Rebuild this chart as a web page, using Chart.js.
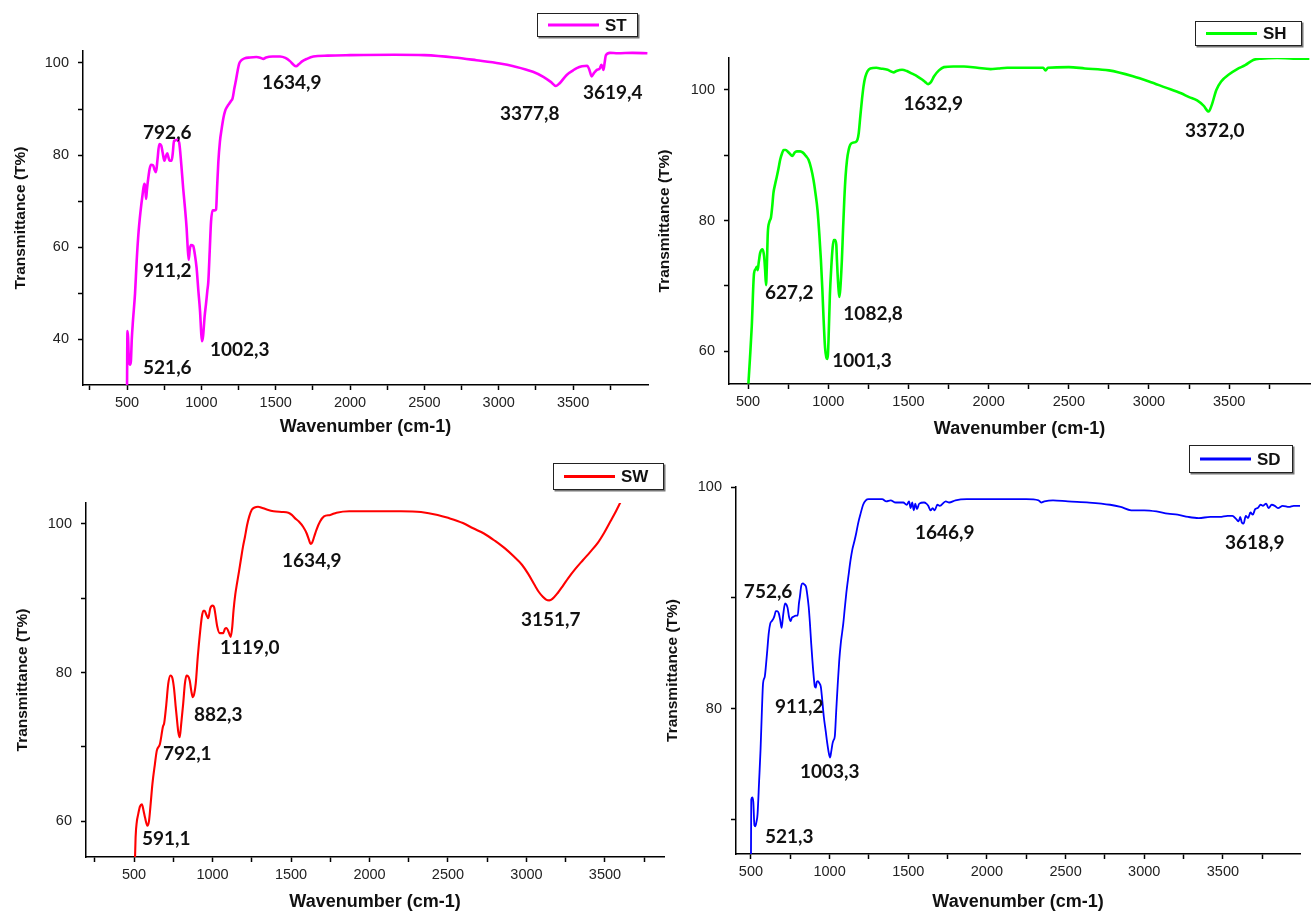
<!DOCTYPE html>
<html>
<head>
<meta charset="utf-8">
<style>
html, body { margin: 0; padding: 0; background: #fff; }
#wrap { position: relative; width: 1312px; height: 913px; overflow: hidden; }
#wrap canvas { position: absolute; left: 0; top: 0; }
</style>
<script src="https://cdn.jsdelivr.net/npm/chart.js@4.4.1/dist/chart.umd.min.js"></script>
</head>
<body>
<div id="wrap">
  <canvas id="st" width="1312" height="913"></canvas>
  <canvas id="sh" width="1312" height="913"></canvas>
  <canvas id="sw" width="1312" height="913"></canvas>
  <canvas id="sd" width="1312" height="913"></canvas>
</div>
<script>
// ---- tick values ----
const xTicks250 = [250, 500, 750, 1000, 1250, 1500, 1750, 2000, 2250, 2500, 2750, 3000, 3250, 3500, 3750];
const xTicks500 = [500, 750, 1000, 1250, 1500, 1750, 2000, 2250, 2500, 2750, 3000, 3250, 3500, 3750];
const xTickLabels = [500, 1000, 1500, 2000, 2500, 3000, 3500];
const stTicksY = [40, 50, 60, 70, 80, 90, 100];
const stLabelsY = [40, 60, 80, 100];
const shTicksY = [60, 70, 80, 90, 100];
const shLabelsY = [60, 80, 100];
const swTicksY = [60, 70, 80, 90, 100];
const swLabelsY = [60, 80, 100];
const sdTicksY = [70, 80, 90, 100];
const sdLabelsY = [80, 100];

// ---- ST ----
const stWave = [500, 503, 507, 512, 520, 526, 532, 540, 554, 565, 576, 590, 605, 616, 622, 628, 634, 641, 652, 662,
  675, 686, 695, 705, 717, 730, 740, 751, 762, 771, 778, 786, 800, 808, 816, 828, 838, 851, 865, 878,
  890, 901, 908, 915, 922, 930, 945, 956, 968, 980, 991, 1000, 1005, 1012, 1022, 1031, 1040, 1047, 1056, 1065,
  1076, 1090, 1099, 1106, 1114, 1125, 1136, 1148, 1159, 1175, 1188, 1200, 1210, 1222, 1233, 1245, 1255, 1270, 1290, 1327,
  1370, 1400, 1417, 1435, 1480, 1529, 1565, 1596, 1620, 1637, 1655, 1675, 1710, 1753, 1850, 2000, 2300, 2500, 2700, 2850,
  3008, 3100, 3230, 3300, 3350, 3385, 3410, 3457, 3500, 3525, 3560, 3596, 3610, 3625, 3640, 3660, 3680, 3690, 3697, 3705,
  3712, 3721, 3748, 3800, 3900, 4000];
const stTrans = [29, 41.8, 40.5, 36, 34.5, 35.2, 40, 44, 50, 57, 62.6, 67.5, 71.5, 73.8, 73.2, 70.5, 72.5, 74.5, 77, 77.9,
  77.8, 76.8, 76.3, 79, 82.4, 82.1, 80.5, 78.8, 79.8, 80.4, 79.6, 78.8, 78.8, 80.5, 83.1, 83.2, 83.4, 82.7, 78, 72.7,
  68.5, 64.1, 60, 57.3, 59.5, 60.5, 60.3, 58.5, 55.5, 50.5, 46.2, 41, 39.6, 40.8, 45, 47.6, 50.5, 52.6, 59, 65.5,
  68, 68, 68.2, 73, 78.4, 83, 85.6, 88, 89.5, 90.6, 91.2, 91.8, 92.3, 94.5, 96.3, 98.5, 99.9, 100.6, 101.0, 101.2,
  101.3, 101.1, 100.9, 101.2, 101.4, 101.4, 101.1, 100.4, 99.6, 99.3, 99.7, 100.3, 100.9, 101.4, 101.6, 101.7, 101.8, 101.7, 101.2, 100.6,
  99.9, 99.3, 98.1, 97.0, 95.9, 95.0, 95.6, 97.4, 98.4, 98.9, 99.3, 99.4, 98.5, 97.1, 97.8, 98.5, 98.8, 99.6, 99.2, 98.5,
  100, 101.7, 102.2, 102.1, 102.2, 102.1];
const stPeaks = [[1408, 95.7, '1634,9'], [608, 84.9, '792,6'], [608, 54.8, '911,2'], [1058, 37.8, '1002,3'],
  [608, 33.8, '521,6'], [3008, 89.0, '3377,8'], [3567, 93.5, '3619,4']];

// ---- SH ----
const shWave = [502, 512, 523, 537, 548, 554, 560, 566, 575, 590, 600, 606, 612, 617, 623, 633, 643, 650, 658, 668,
  679, 690, 700, 712, 721, 735, 750, 765, 777, 790, 804, 825, 842, 860, 877, 893, 908, 920, 933, 944,
  954, 963, 971, 980, 988, 993, 998, 1002, 1010, 1019, 1027, 1034, 1042, 1050, 1054, 1058, 1064, 1069, 1075, 1085,
  1092, 1100, 1108, 1117, 1127, 1137, 1150, 1169, 1182, 1190, 1200, 1210, 1220, 1231, 1245, 1262, 1300, 1325, 1370, 1395,
  1408, 1425, 1460, 1490, 1523, 1555, 1585, 1605, 1623, 1640, 1660, 1690, 1721, 1780, 1846, 1930, 2012, 2060, 2116, 2250,
  2340, 2355, 2370, 2500, 2600, 2750, 2900, 3000, 3100, 3200, 3250, 3300, 3340, 3372, 3390, 3420, 3450, 3500, 3550, 3600,
  3650, 3700, 3800, 3900, 4000];
const shTrans = [55, 59, 63.8, 71.9, 72.6, 72.9, 72.4, 73.5, 75, 75.6, 74.5, 72.5, 70.1, 73, 78.1, 79.8, 80.5, 82, 84.2, 85.5,
  86.7, 88, 89.3, 90.3, 90.8, 90.8, 90.5, 90.1, 89.9, 90.4, 90.6, 90.6, 90.4, 89.9, 89.3, 88, 86.2, 84.2, 81.6, 78,
  74, 69.5, 64.8, 60.5, 59, 58.8, 59.5, 62, 68.5, 72.9, 75.8, 77, 77, 76.3, 74, 71.9, 69.5, 68.3, 69.5, 74,
  78.5, 83.2, 86.8, 89.3, 90.8, 91.6, 91.9, 92, 92.4, 93.4, 96, 98.5, 100.6, 102, 102.9, 103.3, 103.4, 103.3, 103.1, 102.8,
  102.7, 102.9, 103.1, 102.9, 102.5, 102.1, 101.6, 101.2, 100.9, 101.2, 102.1, 103, 103.5, 103.6, 103.6, 103.4, 103.2, 103.3, 103.4, 103.4,
  103.4, 103.0, 103.4, 103.5, 103.3, 103, 102.1, 101.3, 100.4, 99.5, 98.9, 98.4, 97.6, 96.7, 97.6, 100, 101.3, 102.4, 103.2, 103.8,
  104.6, 104.8, 104.9, 104.8, 104.8];
const shPeaks = [[1469, 97.9, '1632,9'], [3225, 93.7, '3372,0'], [606, 68.9, '627,2'], [1094, 65.7, '1082,8'],
  [1025, 58.5, '1001,3']];

// ---- SW ----
const swWave = [505, 510, 518, 525, 538, 550, 560, 570, 585, 595, 604, 617, 633, 645, 665, 684, 692, 705, 718, 732,
  745, 755, 765, 772, 782, 791, 800, 813, 824, 834, 845, 855, 865, 874, 883, 893, 906, 922, 932, 941,
  950, 960, 973, 985, 1000, 1010, 1017, 1030, 1046, 1057, 1067, 1080, 1089, 1100, 1116, 1125, 1134, 1145, 1156, 1168,
  1180, 1193, 1207, 1220, 1234, 1250, 1268, 1290, 1309, 1350, 1389, 1440, 1483, 1505, 1523, 1550, 1577, 1600, 1615, 1625,
  1635, 1648, 1662, 1685, 1710, 1750, 1790, 1871, 2000, 2200, 2328, 2434, 2500, 2595, 2660, 2729, 2800, 2863, 2920, 2971,
  3010, 3051, 3080, 3104, 3125, 3145, 3165, 3199, 3230, 3266, 3310, 3359, 3405, 3453, 3495, 3534, 3570, 3601, 3640];
const swTrans = [54, 57.9, 60, 60.8, 62, 62.3, 61.5, 60.5, 59.4, 60, 61.9, 65, 67.7, 69.5, 70.4, 72.7, 73.2, 75.6, 78.5, 79.6,
  79.2, 77.8, 75.5, 74, 72, 71.3, 73, 75.8, 78.5, 79.6, 79.5, 78.9, 77.5, 76.7, 77.1, 78.5, 82.1, 85.7, 87.5, 88.3,
  88.3, 87.8, 87.3, 88.6, 89, 88.8, 88, 86.2, 85.3, 85.3, 85.3, 85.9, 86, 85.6, 84.8, 86, 88.4, 90.5, 92, 93.5,
  95.1, 96.8, 98.3, 99.8, 101, 101.9, 102.2, 102.3, 102.2, 101.9, 101.7, 101.6, 101.5, 101.2, 100.8, 100.3, 99.6, 98.7, 97.8, 97.3,
  97.5, 98.3, 99.2, 100.3, 101, 101.2, 101.5, 101.7, 101.7, 101.7, 101.6, 101.2, 100.8, 100.1, 99.4, 98.7, 97.7, 96.7, 95.6, 94.5,
  93.3, 91.8, 90.8, 90.2, 89.8, 89.7, 89.9, 90.7, 91.6, 92.7, 93.9, 95.1, 96.2, 97.4, 98.8, 100.3, 101.7, 103, 104.6];
const swPeaks = [[1443, 95.0, '1634,9'], [2965, 87.1, '3151,7'], [1048, 83.3, '1119,0'], [882, 74.3, '882,3'],
  [685, 69.1, '792,1'], [551, 57.7, '591,1']];

// ---- SD ----
const sdWave = [500, 502, 508, 515, 522, 528, 535, 542, 552, 561, 570, 577, 588, 596, 604, 613, 623, 632, 642, 650,
  658, 667, 677, 686, 695, 705, 717, 725, 733, 742, 752, 760, 771, 785, 797, 805, 811, 820, 829, 840,
  850, 858, 867, 875, 883, 891, 899, 906, 912, 918, 925, 935, 944, 953, 963, 975, 985, 995, 1003, 1011,
  1019, 1026, 1033, 1042, 1052, 1061, 1071, 1080, 1087, 1096, 1106, 1120, 1133, 1145, 1159, 1170, 1181, 1197, 1213, 1230,
  1248, 1290, 1334, 1360, 1388, 1420, 1468, 1490, 1505, 1515, 1525, 1535, 1545, 1555, 1570, 1600, 1615, 1627, 1642, 1655,
  1668, 1685, 1700, 1738, 1760, 1800, 1872, 2000, 2140, 2250, 2328, 2345, 2365, 2420, 2515, 2650, 2783, 2850, 2917, 3000,
  3078, 3150, 3212, 3280, 3346, 3420, 3480, 3530, 3560, 3585, 3600, 3610, 3620, 3632, 3645, 3660, 3675, 3690, 3705, 3721,
  3740, 3755, 3775, 3790, 3810, 3830, 3850, 3880, 3920, 3950, 3990];
const sdTrans = [66, 71.8, 72, 71.6, 69.5, 69.4, 69.8, 70.5, 73.5, 76.3, 80, 82.3, 82.9, 84, 85.3, 86.8, 87.7, 87.9, 88.1, 88.4,
  88.8, 88.8, 88.6, 88, 87.3, 88.5, 89.5, 89.4, 89.1, 88.3, 87.9, 88.2, 88.3, 88.4, 88.4, 89.5, 90.1, 91.1, 91.3, 91.2,
  91, 90.3, 89.2, 87.7, 85.9, 84.3, 82.9, 82.0, 81.9, 82.4, 82.5, 82.3, 82.0, 80.8, 79.3, 78, 76.9, 76, 75.6, 76.2,
  76.9, 77.2, 77.5, 79.8, 82.3, 84.3, 85.9, 86.9, 87.7, 89, 90.4, 92, 93.4, 94.4, 95.2, 95.9, 96.7, 97.6, 98.4, 98.8,
  98.9, 98.9, 98.9, 98.7, 98.8, 98.6, 98.6, 98.4, 98.7, 98.1, 98.6, 97.9, 98.5, 98.0, 98.5, 98.6, 98.5, 98.3, 97.9, 98.1,
  97.9, 98.4, 98.3, 98.7, 98.6, 98.8, 98.9, 98.9, 98.9, 98.9, 98.8, 98.6, 98.7, 98.8, 98.7, 98.6, 98.4, 98.2, 97.9, 97.9,
  97.8, 97.6, 97.5, 97.3, 97.2, 97.3, 97.3, 97.4, 97.4, 97.1, 96.9, 97.3, 96.8, 96.7, 97.4, 97.2, 97.7, 97.5, 98.0, 98.1,
  98.4, 98.3, 98.5, 98.1, 98.4, 98.3, 98.1, 98.3, 98.2, 98.3, 98.3];
const sdPeaks = [[1543, 95.9, '1646,9'], [3513, 95.0, '3618,9'], [455, 90.5, '752,6'], [653, 80.2, '911,2'],
  [812, 74.3, '1003,3'], [589, 68.4, '521,3']];

// peak labels drawn at data positions
const peakLabels = {
  id: 'peakLabels',
  afterDatasetsDraw(chart, args, opts) {
    const ctx = chart.ctx, xs = chart.scales.x, ys = chart.scales.y;
    ctx.save();
    ctx.font = 'bold 19px Lato';
    ctx.fillStyle = '#111';
    ctx.textAlign = 'left';
    ctx.textBaseline = 'middle';
    opts.items.forEach(p => ctx.fillText(p[2], xs.getPixelForValue(p[0]), ys.getPixelForValue(p[1])));
    ctx.restore();
  }
};

// boxed legend in Origin style
const boxLegend = {
  id: 'boxLegend',
  afterDraw(chart, args, opts) {
    const ctx = chart.ctx, ds = chart.data.datasets[0];
    const [bx, by, bw, bh] = opts.box;
    ctx.save();
    ctx.fillStyle = '#777';
    ctx.fillRect(bx + 1.5, by + 1.5, bw, bh);
    ctx.fillStyle = '#fff';
    ctx.fillRect(bx, by, bw, bh);
    ctx.strokeStyle = '#222';
    ctx.lineWidth = 1;
    ctx.strokeRect(bx + 0.5, by + 0.5, bw - 1, bh - 1);
    ctx.strokeStyle = ds.borderColor;
    ctx.lineWidth = 3;
    ctx.beginPath();
    ctx.moveTo(bx + 11, by + bh / 2);
    ctx.lineTo(bx + 62, by + bh / 2);
    ctx.stroke();
    ctx.fillStyle = '#111';
    ctx.font = 'bold 17px "Liberation Sans", Arial';
    ctx.textBaseline = 'middle';
    ctx.fillText(ds.label, bx + 68, by + bh / 2 + 1);
    ctx.restore();
  }
};

const tickFont = { family: '"Liberation Sans", Arial', size: 14.5 };

function makeChart(id, p) {
  const yLh = 15.5 * 1.2, xLh = 18 * 1.2;
  const padL = p.yTitleX - yLh / 2;
  const xBottom = p.xTitleY + xLh / 2;
  const [L, T, R, B] = p.area;
  return new Chart(document.getElementById(id), {
    type: 'line',
    data: {
      datasets: [{
        label: p.name,
        data: p.wave.map((w, i) => ({ x: w, y: p.trans[i] })),
        borderColor: p.color,
        borderWidth: p.lw,
        pointRadius: 0,
        cubicInterpolationMode: 'monotone',
        fill: false
      }]
    },
    options: {
      responsive: false,
      animation: false,
      events: [],
      layout: { padding: { left: padL, top: T, right: 1312 - R, bottom: 913 - xBottom } },
      plugins: {
        legend: { display: false },
        tooltip: { enabled: false },
        peakLabels: { items: p.peaks },
        boxLegend: { box: p.box }
      },
      scales: {
        x: {
          type: 'linear',
          min: p.xRange[0], max: p.xRange[1],
          afterFit: s => { s.height = xBottom - B; },
          afterBuildTicks: s => { s.ticks = p.xTicks.map(v => ({ value: v })); },
          ticks: {
            autoSkip: false, maxRotation: 0, padding: 4, color: '#222', font: tickFont,
            callback: v => xTickLabels.includes(v) ? String(v) : ''
          },
          grid: { drawOnChartArea: false, tickLength: 5, tickColor: '#000', tickWidth: 1.5 },
          border: { color: '#000', width: 1.5 },
          title: { display: true, text: 'Wavenumber (cm-1)', color: '#111', padding: 0,
            font: { family: '"Liberation Sans", Arial', size: 18, weight: 'bold' } }
        },
        y: {
          min: p.yRange[0], max: p.yRange[1],
          afterFit: s => { s.width = L - padL; },
          afterBuildTicks: s => { s.ticks = p.yTicks.map(v => ({ value: v })); },
          ticks: {
            autoSkip: false, padding: 9, color: '#222', font: tickFont,
            callback: v => p.yLabels.includes(v) ? String(v) : ''
          },
          grid: { drawOnChartArea: false, tickLength: 5, tickColor: '#000', tickWidth: 1.5 },
          border: { color: '#000', width: 1.5 },
          title: { display: true, text: 'Transmittance (T%)', color: '#111', padding: 0,
            font: { family: '"Liberation Sans", Arial', size: 15.5, weight: 'bold' } }
        }
      }
    },
    plugins: [peakLabels, boxLegend]
  });
}

makeChart('st', {
  name: 'ST', color: '#ff00ff', lw: 2.6, wave: stWave, trans: stTrans, peaks: stPeaks,
  area: [83, 51, 648, 385], xRange: [204, 4004], yRange: [30.1, 102.6],
  xTicks: xTicks250, yTicks: stTicksY, yLabels: stLabelsY,
  yTitleX: 21, xTitleY: 427, box: [537, 13, 101, 24]
});
makeChart('sh', {
  name: 'SH', color: '#00ff00', lw: 2.6, wave: shWave, trans: shTrans, peaks: shPeaks,
  area: [729, 58, 1310, 384], xRange: [381, 4004], yRange: [54.95, 104.9],
  xTicks: xTicks500, yTicks: shTicksY, yLabels: shLabelsY,
  yTitleX: 665, xTitleY: 429, box: [1195, 21, 107, 25]
});
makeChart('sw', {
  name: 'SW', color: '#ff0000', lw: 2.1, wave: swWave, trans: swTrans, peaks: swPeaks,
  area: [86, 503, 664, 857], xRange: [194, 3876], yRange: [55.2, 102.8],
  xTicks: xTicks250, yTicks: swTicksY, yLabels: swLabelsY,
  yTitleX: 23, xTitleY: 902, box: [553, 463, 111, 27]
});
makeChart('sd', {
  name: 'SD', color: '#0000ff', lw: 1.8, wave: sdWave, trans: sdTrans, peaks: sdPeaks,
  area: [736, 487, 1300, 854], xRange: [405, 3990], yRange: [66.9, 100],
  xTicks: xTicks500, yTicks: sdTicksY, yLabels: sdLabelsY,
  yTitleX: 673, xTitleY: 902, box: [1189, 445, 104, 28]
});
</script>
</body>
</html>
